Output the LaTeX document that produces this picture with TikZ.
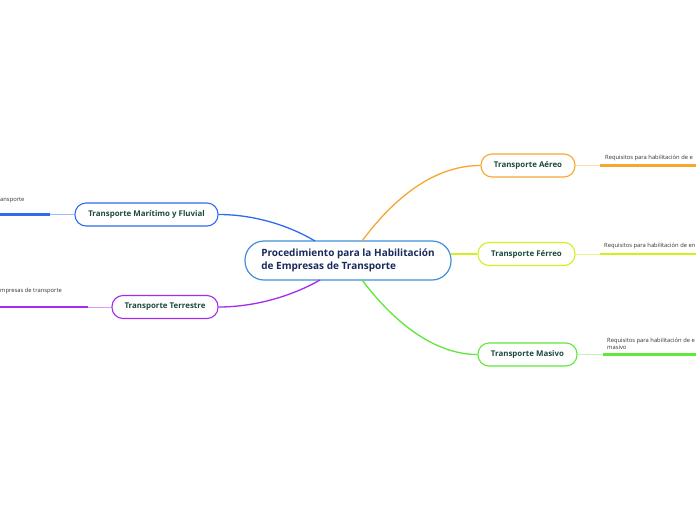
\documentclass[tikz,border=0pt]{standalone}
\usepackage{fontspec}
\setmainfont{Open Sans}
\definecolor{navy}{HTML}{1B2A5C}
\definecolor{dgreen}{HTML}{1C4A3C}
\definecolor{cblue}{HTML}{3E8FD8}
\definecolor{mblue}{HTML}{2E6BF0}
\definecolor{mpurple}{HTML}{A42CF0}
\definecolor{morange}{HTML}{F7A631}
\definecolor{myellow}{HTML}{D2F01E}
\definecolor{mgreen}{HTML}{5FE83A}
\definecolor{leaftext}{HTML}{333333}
\tikzset{
  central/.style={draw=cblue, line width=1.2pt, rounded corners=19pt, fill=white,
    minimum width=206pt, minimum height=39pt, inner sep=0pt,
    font=\fontsize{10}{13}\selectfont\bfseries, text=navy, align=left},
  branch/.style={line width=1.1pt, rounded corners=11pt, fill=white,
    minimum height=23pt, inner sep=0pt,
    font=\fontsize{7.9}{10}\selectfont\bfseries, text=dgreen},
  conn/.style={line width=1.3pt},
  lead/.style={line width=0.9pt},
  thick/.style={line width=2.6pt},
  leaf/.style={font=\fontsize{5.8}{7.6}\selectfont, text=leaftext, inner sep=0pt, align=left}
}
\begin{document}
\begin{tikzpicture}[x=1pt,y=-1pt]
\useasboundingbox (0,0) rectangle (696,520);
\fill[white] (0,0) rectangle (696,520);

% nodes
\node[central] (c) at (348,260.5) {Procedimiento para la Habilitación\\de Empresas de Transporte};
\node[branch, draw=mblue, minimum width=143pt] (mar) at (146.5,214.5) {Transporte Marítimo y Fluvial};
\node[branch, draw=mpurple, minimum width=106pt] (ter) at (165,307) {Transporte Terrestre};
\node[branch, draw=morange, minimum width=94pt] (aer) at (528,165.5) {Transporte Aéreo};
\node[branch, draw=myellow, minimum width=97pt] (fer) at (526.5,254) {Transporte Férreo};
\node[branch, draw=mgreen, minimum width=99pt] (mas) at (527.5,354.5) {Transporte Masivo};

% coordinates
\coordinate (cMarS) at (315,241);
\coordinate (cTerS) at (320,280);
\coordinate (cAerS) at (362,241);
\coordinate (cMasS) at (362,280);
\coordinate (cFerS) at (451,254);

\coordinate (marL1) at (50,214.5);
\coordinate (marL2) at (0,214.5);
\coordinate (terL1) at (88,307);
\coordinate (terL2) at (0,307);
\coordinate (aerL1) at (600,165.5);
\coordinate (aerL2) at (696,165.5);
\coordinate (ferL1) at (600,254);
\coordinate (ferL2) at (696,254);
\coordinate (masL1) at (603,354.5);
\coordinate (masL2) at (696,354.5);

% connectors center-branch
\draw[conn, mblue] (cMarS) .. controls (290,226) and (255,214.5) .. (mar.east);
\draw[conn, mpurple] (cTerS) .. controls (292,296) and (255,307) .. (ter.east);
\draw[conn, morange] (cAerS) .. controls (400,190) and (440,165.5) .. (aer.west);
\draw[conn, myellow] (cFerS) -- (fer.west);
\draw[conn, mgreen] (cMasS) .. controls (400,330) and (440,354.5) .. (mas.west);

% leaves
\draw[lead, mblue!45] (mar.west) -- (marL1);
\draw[thick, mblue] (marL1) -- (marL2);
\node[leaf, anchor=south west] (marT) at (0,203) {ansporte};

\draw[lead, mpurple!45] (ter.west) -- (terL1);
\draw[thick, mpurple] (terL1) -- (terL2);
\node[leaf, anchor=south west] (terT) at (0,294) {mpresas de transporte};

\draw[lead, morange!40] (aer.east) -- (aerL1);
\draw[thick, morange] (aerL1) -- (aerL2);
\node[leaf, anchor=south west] (aerT) at (605,161.5) {Requisitos para habilitación de e};

\draw[lead, myellow!50] (fer.east) -- (ferL1);
\draw[thick, myellow] (ferL1) -- (ferL2);
\node[leaf, anchor=south west] (ferT) at (604,249.5) {Requisitos para habilitación de en};

\draw[lead, mgreen!40] (mas.east) -- (masL1);
\draw[thick, mgreen] (masL1) -- (masL2);
\node[leaf, anchor=south west] (masT) at (607,350) {Requisitos para habilitación de e\\masivo};
\end{tikzpicture}
\end{document}
